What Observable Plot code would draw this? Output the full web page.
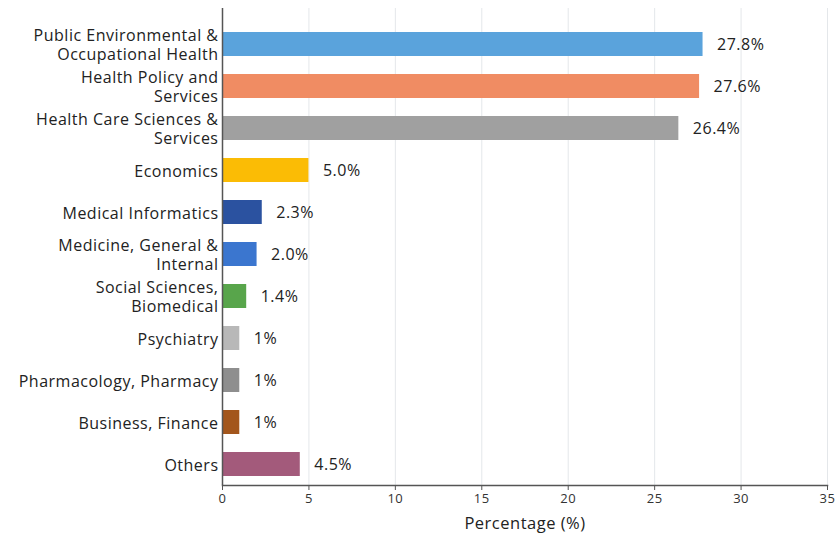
<!DOCTYPE html>
<html>
<head>
<meta charset="utf-8">
<script src="https://cdn.jsdelivr.net/npm/d3@7"></script>
<script src="https://cdn.jsdelivr.net/npm/@observablehq/plot@0.6"></script>
<style>
  html, body { margin: 0; padding: 0; background: #fff; }
  #chart svg { display: block; }
</style>
</head>
<body>
<div id="chart"></div>
<script>
const categories = [
  "Public Environmental &\nOccupational Health",
  "Health Policy and\nServices",
  "Health Care Sciences &\nServices",
  "Economics",
  "Medical Informatics",
  "Medicine, General &\nInternal",
  "Social Sciences,\nBiomedical",
  "Psychiatry",
  "Pharmacology, Pharmacy",
  "Business, Finance",
  "Others"
];
const values = [27.8, 27.6, 26.4, 5.0, 2.3, 2.0, 1.4, 1, 1, 1, 4.5];
const valueLabels = ["27.8%", "27.6%", "26.4%", "5.0%", "2.3%", "2.0%", "1.4%", "1%", "1%", "1%", "4.5%"];
const barColors = ["#5aa3dc", "#f08c63", "#a0a0a0", "#fbbc05", "#2b52a0", "#3b76cf", "#58a54b", "#b8b8b8", "#8e8e8e", "#a3561c", "#a35a7b"];
const xTicks = [0, 5, 10, 15, 20, 25, 30, 35];
const xLabel = "Percentage (%)";

const data = categories.map((c, i) => ({category: c, value: values[i], label: valueLabels[i], color: barColors[i]}));

const font = "'Open Sans', Roboto, sans-serif";

const chart = Plot.plot({
  width: 835,
  height: 538,
  marginLeft: 222,
  marginRight: 8,
  marginTop: 8,
  marginBottom: 53,
  style: {fontFamily: font, fontSize: "16px", color: "#222", background: "#fff", letterSpacing: "0.5px"},
  x: {domain: [0, 35], ticks: xTicks},
  y: {domain: categories, paddingInner: 0.43, paddingOuter: 0, insetTop: 22, insetBottom: 8},
  marks: [
    Plot.ruleX(xTicks.slice(1), {stroke: "#e4e7ea", strokeWidth: 1}),
    Plot.barX(data, {x: "value", y: "category", fill: "color"}),
    Plot.text(data, {x: "value", y: "category", text: "label", textAnchor: "start", dx: 14, fontSize: 16, fill: "#222"}),
    Plot.ruleX([0], {stroke: "#555", strokeWidth: 1.5}),
    Plot.frame({anchor: "bottom", stroke: "#555", strokeWidth: 1.5}),
    Plot.axisY({tickSize: 0, tickPadding: 4, fontSize: 16, fill: "#222", label: null, lineHeight: 1.17}),
    Plot.axisX({ticks: xTicks, tickSize: 5, tickPadding: 3, fontSize: 13, fill: "#333", stroke: "#555", label: null}),
    Plot.text([xLabel], {frameAnchor: "bottom", lineAnchor: "middle", dy: 38, fontSize: 16.5, fill: "#222"})
  ]
});
document.getElementById("chart").appendChild(chart);
</script>
</body>
</html>
